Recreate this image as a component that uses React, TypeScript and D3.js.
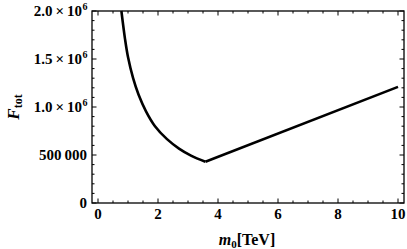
import React from "react";
import * as d3 from "d3";

const mValues = [0.78, 0.9, 1.0, 1.17, 1.35, 1.6, 1.9, 2.3, 2.7, 3.1, 3.58, 10];
const fValues = [2.0e6, 1.71e6, 1.52e6, 1.30e6, 1.13e6, 0.955e6, 0.80e6, 0.665e6, 0.567e6, 0.494e6, 0.43e6, 1.21e6];
const xTicks = [0, 2, 4, 6, 8, 10];
const yTicks = [0, 500000, 1000000, 1500000, 2000000];
const yTickMain = ["0", "500\u2009000", "1.0", "1.5", "2.0"];

const W = 407, H = 249;
const L = 92, R = 404, T = 11, B = 203;

export default function App() {
  const x = d3.scaleLinear().domain([-0.2, 10.2]).range([L, R]);
  const y = d3.scaleLinear().domain([0, 2e6]).range([B, T]);
  const data = mValues.map((m, i) => ({ m, f: fValues[i] }));
  const left = data.slice(0, data.length - 1);
  const right = data.slice(data.length - 2);
  const curve = d3.line<{ m: number; f: number }>().x(d => x(d.m)).y(d => y(d.f)).curve(d3.curveCatmullRom);
  const lin = d3.line<{ m: number; f: number }>().x(d => x(d.m)).y(d => y(d.f));
  const xMinor = d3.range(0, 10.01, 0.5);
  const yMinor = d3.range(0, 2e6 + 1, 100000);
  const font = "'Liberation Serif', 'Times New Roman', Times, serif";
  const bold = { fontFamily: font, fontWeight: 700 } as React.CSSProperties;
  return (
    <svg width={W} height={H} style={{ position: "absolute", left: 0, top: 0 }}>
      <defs>
        <clipPath id="clip"><rect x={L} y={T - 2} width={R - L} height={B - T + 2} /></clipPath>
      </defs>
      <rect width={W} height={H} fill="white" />
      <g clipPath="url(#clip)" fill="none" stroke="black" strokeWidth={2.6} strokeLinejoin="miter">
        <path d={curve(left) || ""} />
        <path d={lin(right) || ""} />
      </g>
      <g stroke="black" strokeWidth={1}>
        {xMinor.map(v => {
          const major = Math.abs(v % 2) < 1e-9;
          const len = major ? 4.5 : 2.5;
          return (
            <g key={"xm" + v}>
              <line x1={x(v)} x2={x(v)} y1={B} y2={B - len} />
              <line x1={x(v)} x2={x(v)} y1={T} y2={T + len} />
            </g>
          );
        })}
        {yMinor.map(v => {
          const major = Math.abs(v % 500000) < 1;
          const len = major ? 4.5 : 2.5;
          return (
            <g key={"ym" + v}>
              <line x1={L} x2={L + len} y1={y(v)} y2={y(v)} />
              <line x1={R} x2={R - len} y1={y(v)} y2={y(v)} />
            </g>
          );
        })}
      </g>
      <rect x={L} y={T} width={R - L} height={B - T} fill="none" stroke="black" strokeWidth={1.3} />
      <g style={bold} fontSize={15} fill="black">
        {xTicks.map(v => (
          <text key={"xt" + v} x={x(v)} y={219} textAnchor="middle">{v}</text>
        ))}
        {yTicks.map((v, i) => (
          <text key={"yt" + v} x={i >= 2 ? 82 : 87} y={y(v) + 5} textAnchor="end">
            {yTickMain[i]}{i >= 2 ? "\u2009\u00d7\u200910" : ""}
          </text>
        ))}
        {yTicks.map((v, i) => i >= 2 ? (
          <text key={"sup" + v} x={82.5} y={y(v) - 1.5} fontSize={10}>6</text>
        ) : null)}
      </g>
      <text x={247} y={245} textAnchor="middle" style={bold} fontSize={16}>
        <tspan fontStyle="italic">m</tspan>
        <tspan fontSize={11} dy={3}>0</tspan>
        <tspan dy={-3}>[TeV]</tspan>
      </text>
      <text transform={`translate(19,107) rotate(-90)`} textAnchor="middle" style={bold} fontSize={17}>
        <tspan fontStyle="italic">F</tspan>
        <tspan fontSize={12} dy={3}>tot</tspan>
      </text>
    </svg>
  );
}
